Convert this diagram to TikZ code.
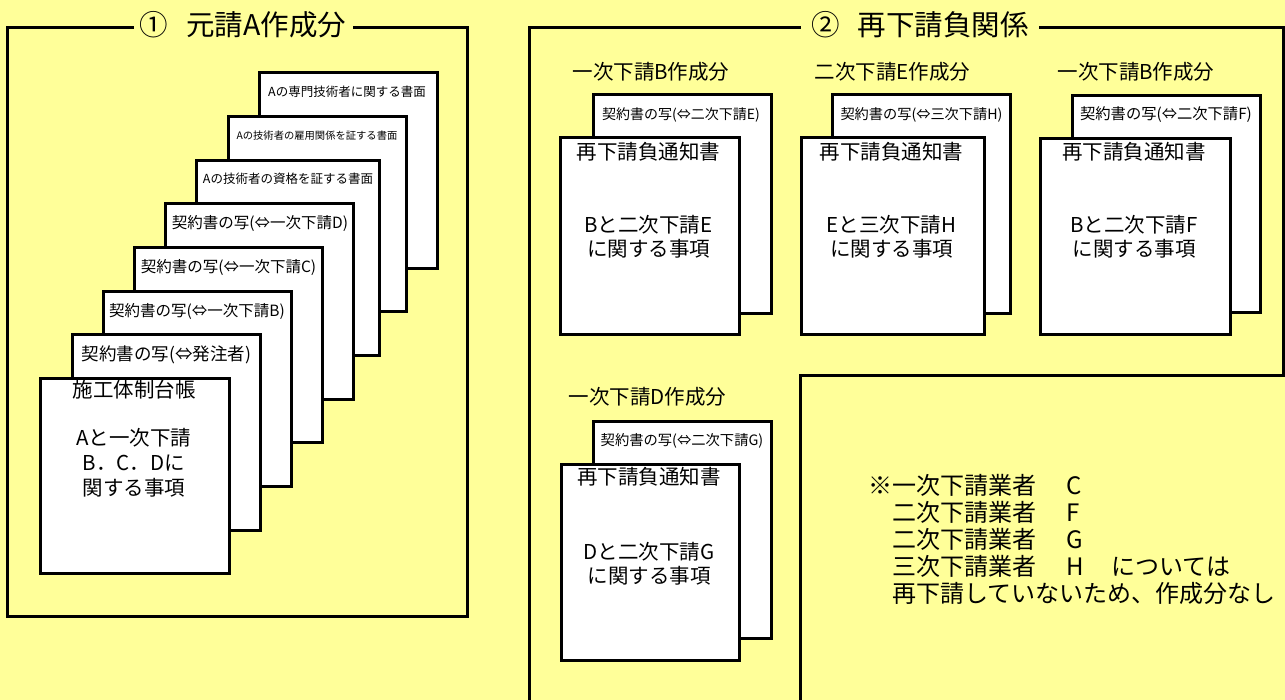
\documentclass[tikz,border=0pt]{standalone}
\usepackage{fontspec}
\setmainfont{Noto Sans CJK JP}
\newcommand\jpsz[2]{\fontsize{#1pt}{#2pt}\selectfont}
\definecolor{bgyellow}{HTML}{FFFF99}
\begin{document}
\begin{tikzpicture}[x=1pt,y=-1pt,
  page/.style={draw=black, fill=white, line width=3pt, inner sep=0pt, anchor=north west},
  frame/.style={draw=black, line width=3pt, line join=miter},
  txt/.style={inner sep=0pt, text=black, align=center},
  ttl/.style={fill=bgyellow, inner sep=0pt, minimum height=32pt, font=\jpsz{28.5}{30}}
]
\useasboundingbox (0,0) rectangle (1285,700);
\fill[bgyellow] (0,0) rectangle (1285,700);

% ---------- left panel ----------
\draw[frame] (7,28) rectangle (467,616);
\node[ttl, minimum width=219pt] (title1) at (243,25) {①\hspace{18pt}元請A作成分};

\node[page, minimum width=178pt, minimum height=196pt] (p1) at (258,71) {};
\node[txt, font=\jpsz{12.5}{14}] (t1) at (347,92) {Aの専門技術者に関する書面};
\node[page, minimum width=178pt, minimum height=195pt] (p2) at (227,115) {};
\node[txt, font=\jpsz{10.3}{12}] (t2) at (317,136) {Aの技術者の雇用関係を証する書面};
\node[page, minimum width=183pt, minimum height=195pt] (p3) at (195,159) {};
\node[txt, font=\jpsz{12.5}{14}] (t3) at (288,179) {Aの技術者の資格を証する書面};
\node[page, minimum width=188pt, minimum height=196pt] (p4) at (164,202) {};
\node[txt, font=\jpsz{15.5}{17}] (t4) at (260,223) {契約書の写(⇔一次下請D)};
\node[page, minimum width=188pt, minimum height=195pt] (p5) at (133,246) {};
\node[txt, font=\jpsz{15.5}{17}] (t5) at (228.5,267) {契約書の写(⇔一次下請C)};
\node[page, minimum width=188pt, minimum height=195pt] (p6) at (102,290) {};
\node[txt, font=\jpsz{15.5}{17}] (t6) at (197,311) {契約書の写(⇔一次下請B)};
\node[page, minimum width=188pt, minimum height=196pt] (p7) at (71,333) {};
\node[txt, font=\jpsz{17.5}{19}] (t7) at (166.5,355) {契約書の写(⇔発注者)};
\node[page, minimum width=189pt, minimum height=195pt] (p8) at (39,377) {};
\node[txt, font=\jpsz{20.5}{22}] (t8) at (134,390) {施工体制台帳};
\node[txt, font=\jpsz{20.5}{25}] (t8b) at (134,463) {Aと一次下請\\B．C．Dに\\関する事項};

% ---------- right panel ----------
\draw[frame] (529,702) -- (529,28) -- (1283,28) -- (1283,376) -- (800,376) -- (800,702);
\node[ttl, minimum width=238pt] (title2) at (920,25) {②\hspace{18pt}再下請負関係};

% group 1
\node[txt, font=\jpsz{20.5}{22}] (l1) at (651,72) {一次下請B作成分};
\node[page, minimum width=178pt, minimum height=219pt] (b1) at (592,93) {};
\node[txt, font=\jpsz{14}{16}] (bt1) at (681,115) {契約書の写(⇔二次下請E)};
\node[page, minimum width=179pt, minimum height=197pt] (f1) at (559,136) {};
\node[txt, font=\jpsz{20.5}{22}] (ft1) at (648.5,152) {再下請負通知書};
\node[txt, font=\jpsz{20.5}{23.5}] (fb1) at (648.5,236.5) {Bと二次下請E\\に関する事項};

% group 2
\node[txt, font=\jpsz{20.5}{22}] (l2) at (892.5,72) {二次下請E作成分};
\node[page, minimum width=178pt, minimum height=219pt] (b2) at (831,93) {};
\node[txt, font=\jpsz{14.2}{16}] (bt2) at (921.5,115) {契約書の写(⇔三次下請H)};
\node[page, minimum width=183pt, minimum height=197pt] (f2) at (800,136) {};
\node[txt, font=\jpsz{20.5}{22}] (ft2) at (891.5,152) {再下請負通知書};
\node[txt, font=\jpsz{20.5}{23.5}] (fb2) at (891.5,236.5) {Eと三次下請H\\に関する事項};

% group 3
\node[txt, font=\jpsz{20.5}{22}] (l3) at (1136,72) {一次下請B作成分};
\node[page, minimum width=188pt, minimum height=217pt] (b3) at (1071,94) {};
\node[txt, font=\jpsz{15.3}{17}] (bt3) at (1166,115) {契約書の写(⇔二次下請F)};
\node[page, minimum width=190pt, minimum height=196pt] (f3) at (1039,137) {};
\node[txt, font=\jpsz{20.5}{22}] (ft3) at (1134,152) {再下請負通知書};
\node[txt, font=\jpsz{20.5}{23.5}] (fb3) at (1134,236.5) {Bと二次下請F\\に関する事項};

% group 4
\node[txt, font=\jpsz{20.5}{22}] (l4) at (647.5,397) {一次下請D作成分};
\node[page, minimum width=178pt, minimum height=217pt] (b4) at (592,420) {};
\node[txt, font=\jpsz{14.3}{16}] (bt4) at (682,441) {契約書の写(⇔二次下請G)};
\node[page, minimum width=178pt, minimum height=196pt] (f4) at (560,463) {};
\node[txt, font=\jpsz{20.5}{22}] (ft4) at (649,477) {再下請負通知書};
\node[txt, font=\jpsz{20.5}{23.5}] (fb4) at (649,563.5) {Dと二次下請G\\に関する事項};

% note
\node[txt, align=left, anchor=west, font=\jpsz{24}{27}] (note) at (868,539) {%
※\makebox[174pt][l]{一次下請業者}C\\
\phantom{※}\makebox[174pt][l]{二次下請業者}F\\
\phantom{※}\makebox[174pt][l]{二次下請業者}G\\
\phantom{※}\makebox[174pt][l]{三次下請業者}\makebox[45pt][l]{H}については\\
\phantom{※}再下請していないため、作成分なし};
\end{tikzpicture}
\end{document}
